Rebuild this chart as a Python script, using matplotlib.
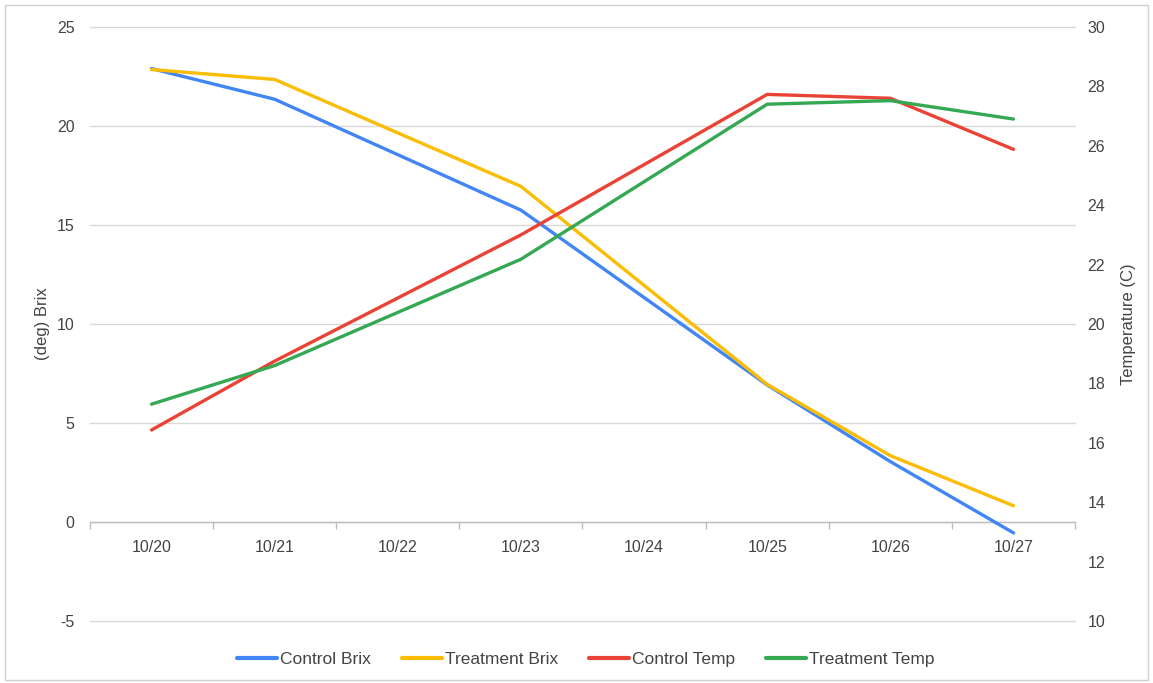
import matplotlib
matplotlib.use("Agg")
import matplotlib.pyplot as plt
from matplotlib.patches import Rectangle
from matplotlib.lines import Line2D
import numpy as np

plt.rcParams['font.family'] = ['Liberation Sans', 'DejaVu Sans']
plt.rcParams['axes.unicode_minus'] = False

dates = ["10/20", "10/21", "10/22", "10/23", "10/24", "10/25", "10/26", "10/27"]
# readings exist only on these days
sample_dates = ["10/20", "10/21", "10/23", "10/25", "10/26", "10/27"]
control_brix = [22.9, 21.35, 15.75, 6.92, 3.05, -0.55]
treatment_brix = [22.85, 22.35, 16.95, 6.95, 3.35, 0.82]
control_temp = [16.43, 18.75, 23.0, 27.73, 27.6, 25.88]
treatment_temp = [17.3, 18.6, 22.18, 27.4, 27.52, 26.9]

colors = {"Control Brix": "#4285F4", "Treatment Brix": "#FBBC04",
          "Control Temp": "#EA4335", "Treatment Temp": "#34A853"}

xpos = [dates.index(d) for d in sample_dates]

fig = plt.figure(figsize=(11.53, 6.83), dpi=100)
ax = fig.add_axes([0.078, 0.0908, 0.8544, 0.8697])
ax2 = ax.twinx()

lw = 2.4
ax.plot(xpos, control_brix, color=colors["Control Brix"], lw=lw, solid_capstyle='round', zorder=3)
ax.plot(xpos, treatment_brix, color=colors["Treatment Brix"], lw=lw, solid_capstyle='round', zorder=3)
ax2.plot(xpos, control_temp, color=colors["Control Temp"], lw=lw, solid_capstyle='round', zorder=3)
ax2.plot(xpos, treatment_temp, color=colors["Treatment Temp"], lw=lw, solid_capstyle='round', zorder=3)

ax.set_xlim(-0.5, len(dates) - 0.5)
ax.set_ylim(-5, 25)
ax2.set_ylim(10, 30)
ax.set_yticks(np.arange(-5, 26, 5))
ax2.set_yticks(np.arange(10, 31, 2))

ax.grid(axis='y', color='#d9d9d9', lw=1)
for gl in ax.get_ygridlines():
    gl.set_clip_on(False)
ax.set_axisbelow(True)
for a in (ax, ax2):
    for s in ('top', 'left', 'right'):
        a.spines[s].set_visible(False)
ax2.spines['bottom'].set_visible(False)
ax.spines['bottom'].set_position(('data', 0))
ax.spines['bottom'].set_color('#bdbdbd')
ax.spines['bottom'].set_linewidth(1)

ax.set_xticks(range(len(dates)))
ax.set_xticklabels(dates)
ax.set_xticks(np.arange(-0.5, len(dates), 1), minor=True)
ax.tick_params(axis='x', which='major', length=0, pad=13, labelsize=11.5, colors='#444444')
ax.tick_params(axis='x', which='minor', length=5, color='#bdbdbd', width=1)
ax.tick_params(axis='y', length=0, pad=11, labelsize=11.5, colors='#444444')
ax2.tick_params(axis='y', length=0, pad=9, labelsize=11.5, colors='#444444')

ax.set_ylabel("(deg) Brix", fontsize=12, color='#444444', labelpad=5)
ax2.set_ylabel("Temperature (C)", fontsize=12, color='#444444', labelpad=11)

handles = [Line2D([0], [0], color=c, lw=3, solid_capstyle='round') for c in colors.values()]
fig.legend(handles, list(colors.keys()), loc='center', bbox_to_anchor=(0.508, 0.035),
           ncol=4, frameon=False, fontsize=12.5, handlelength=2.3, handletextpad=0.15,
           columnspacing=1.8, labelcolor='#444444')

fig.patches.append(Rectangle((0.004, 0.004), 0.992, 0.989, transform=fig.transFigure,
                             fill=False, edgecolor='#d0d0d0', lw=1))

fig.savefig("out.png", dpi=100, facecolor='white')
